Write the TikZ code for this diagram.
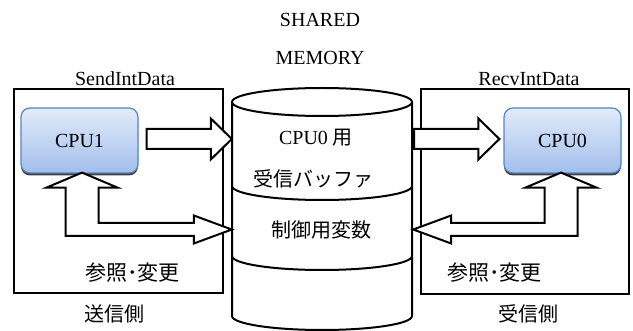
\documentclass[tikz,border=0pt]{standalone}
\usepackage{fontspec}
\setmainfont{Liberation Serif}
\newfontfamily\jp{Noto Sans CJK JP}
\usetikzlibrary{calc,shadows}

\definecolor{cputop}{RGB}{226,235,249}
\definecolor{cpubot}{RGB}{162,190,236}
\definecolor{cpuedge}{RGB}{84,133,196}

% straight block arrow from #1 (shaft start) to #2 (tip), pointing right
\newcommand{\flatarrow}[2]{%
  \draw[blockarrow] ($(#1)+(0,-10)$) -- ($(#2)+(-21,-10)$) -- ($(#2)+(-21,-20.5)$)
    -- (#2) -- ($(#2)+(-21,20.5)$) -- ($(#2)+(-21,10)$) -- ($(#1)+(0,10)$) -- cycle;}
% L-shaped double block arrow: #1 upward tip, #2 sideways tip, #3 = +1 (right) / -1 (left)
\newcommand{\elbowarrow}[3]{%
  \draw[blockarrow] (#1) -- ($(#1)+(#3*35.5,15)$) -- ($(#1)+(#3*16.5,15)$)
    -- ($(#1 |- #2)+(#3*16.5,-6.5)$) -- ($(#2)+(-#3*38,-6.5)$) -- ($(#2)+(-#3*38,-14)$)
    -- (#2) -- ($(#2)+(-#3*38,14)$) -- ($(#2)+(-#3*38,6.5)$)
    -- ($(#1 |- #2)+(-#3*16.5,6.5)$) -- ($(#1)+(-#3*16.5,15)$) -- ($(#1)+(-#3*35.5,15)$) -- cycle;}

\begin{document}
\begin{tikzpicture}[x=1pt,y=-1pt,
  latin/.style={font=\fontsize{20}{24}\selectfont, inner sep=0pt},
  jptext/.style={font=\fontsize{20}{24}\selectfont\jp, inner sep=0pt},
  jpbig/.style={font=\fontsize{21}{25}\selectfont\jp, inner sep=0pt},
  sidebox/.style={draw, line width=2.5pt, inner sep=0pt},
  cpu/.style={draw=cpuedge, line width=1.2pt, rounded corners=9pt,
    top color=cputop, bottom color=cpubot, inner sep=0pt,
    minimum width=117pt, minimum height=65pt,
    font=\fontsize{20}{24}\selectfont,
    drop shadow={shadow xshift=0pt, shadow yshift=-2.5pt, opacity=0.75, fill=black}},
  blockarrow/.style={draw, fill=white, line width=2pt, line join=miter},
  drum/.style={line width=2pt}]

\useasboundingbox (0,0) rectangle (633,331);

% sender and receiver frames
\node[sidebox, minimum width=209pt, minimum height=204pt] (sendbox) at (118.5,191) {};
\node[sidebox, minimum width=208pt, minimum height=205pt] (recvbox) at (525,191.5) {};
\node[latin, anchor=base] (sendlbl) at (125,86) {SendIntData};
\node[latin, anchor=base] (recvlbl) at (529,86) {RecvIntData};

% processors
\node[cpu] (cpu1) at (79.5,140.5) {CPU1};
\node[cpu] (cpu0) at (562.5,140.5) {CPU0};

% shared memory drum
\node[minimum width=180pt, minimum height=214pt, inner sep=0pt] (mem) at (322,209) {};
\draw[drum, fill=white] (232,102) -- (232,316)
  arc[start angle=180, end angle=0, x radius=90, y radius=14] -- (412,102);
\draw[drum] (322,102) ellipse[x radius=90, y radius=14];
\draw[drum] (232,186) arc[start angle=180, end angle=0, x radius=90, y radius=14];
\draw[drum] (232,256) arc[start angle=180, end angle=0, x radius=90, y radius=14];

\node[latin, anchor=base] (memlbla) at (320,27) {SHARED};
\node[latin, anchor=base] (memlblb) at (320,65) {MEMORY};
\node[latin, anchor=base] (bufa) at (316,145) {CPU0 {\jp\fontsize{20}{24}\selectfont 用}};
\node[jptext] (bufb) at (313,179) {受信バッファ};
\node[jptext] (ctrl) at (321,230) {制御用変数};

% data transfer arrows
\coordinate (a1s) at ($(cpu1.east)+(8,-1.5)$);
\coordinate (a1t) at (mem.west |- a1s);
\coordinate (a2s) at ($(mem.east)+(2,0)$);
\coordinate (a2s) at (a2s |- a1s);
\coordinate (a2t) at ($(cpu0.west |- a1s)+(-4,0)$);
\flatarrow{a1s}{a1t}
\flatarrow{a2s}{a2t}

% reference / update arrows
\coordinate (lt1) at ($(cpu1.south)+(2.5,-1)$);
\coordinate (lt2) at ($(mem.west)+(0,20.5)$);
\coordinate (rt1) at ($(cpu0.south)+(-1.5,-1)$);
\coordinate (rt2) at ($(mem.east)+(1,20.5)$);
\elbowarrow{lt1}{lt2}{1}
\elbowarrow{rt1}{rt2}{-1}

\node[jpbig] (refl) at (132.5,273) {参照･変更};
\node[jpbig] (refr) at (494.5,273) {参照･変更};
\node[jptext] (sendside) at (114.5,314) {送信側};
\node[jptext] (recvside) at (528,313.5) {受信側};
\end{tikzpicture}
\end{document}
